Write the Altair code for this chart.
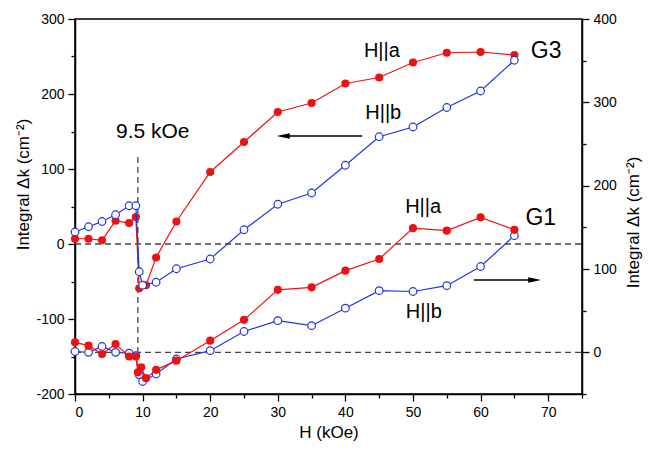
import altair as alt
import pandas as pd

# ---- data ----
h_g3a = [0, 2, 4, 6, 8, 9, 9.5, 10.5, 12, 15, 20, 25, 30, 35, 40, 45, 50, 55, 60, 65]
k_g3a = [7, 7, 5, 31, 28, 36, -59, -55, -18, 30, 96, 136, 176, 188, 214, 222, 242, 255, 256, 252]

h_g3b = [0, 2, 4, 6, 8, 9, 9.5, 10, 12, 15, 20, 25, 30, 35, 40, 45, 50, 55, 60, 65]
k_g3b = [16, 23, 30, 39, 51, 51, -37, -55, -51, -33, -20, 19, 53, 68, 105, 143, 156, 182, 204, 245]

h_g1a = [0, 2, 4, 6, 8, 9, 9.3, 9.8, 10.5, 12, 15, 20, 25, 30, 35, 40, 45, 50, 55, 60, 65]
k_g1a = [12, 8, -2, 10, -5, -5, -24, -18, -31, -21, -10, 14, 39, 75, 78, 98, 112, 149, 146, 162, 147]

h_g1b = [0, 2, 4, 6, 8, 9, 9.5, 10, 12, 15, 20, 25, 30, 35, 40, 45, 50, 55, 60, 65]
k_g1b = [1, 0, 7, 0, -1, -4, -27, -35, -26, -8, 2, 25, 38, 32, 53, 74, 73, 80, 103, 140]

labels_text = ["9.5 kOe", "H||a", "H||b", "G3", "H||a", "G1", "H||b"]
labels_x = [11.5, 45.4, 45.6, 69.7, 51.5, 68.9, 51.6]
labels_y = [149, 257, 175, 257, 49, 35, -91]
labels_size = [21, 20, 20, 23, 20, 23, 20]

RED = "#ee1111"
BLUE = "#2233dd"
FONT = "Liberation Sans"


def series(xs, ys):
    return pd.DataFrame({"x": xs, "y": ys, "i": list(range(len(xs)))})


X = alt.X(
    "x:Q",
    scale=alt.Scale(domain=[0, 75], nice=False, zero=False),
    axis=alt.Axis(
        title="H (kOe)",
        values=list(range(0, 76, 5)),
        labelExpr="datum.value % 10 === 0 ? toString(datum.value) : ''",
        tickSize={"condition": {"test": "datum.value % 10 === 0", "value": 7}, "value": 4},
        titlePadding=5,
    ),
)

YL = alt.Y(
    "y:Q",
    scale=alt.Scale(domain=[-200, 300], nice=False, zero=False),
    axis=alt.Axis(
        title="Integral Δk (cm⁻²)",
        orient="left",
        values=list(range(-200, 301, 50)),
        labelExpr="datum.value % 100 === 0 ? toString(datum.value) : ''",
        tickSize={"condition": {"test": "datum.value % 100 === 0", "value": 7}, "value": 4},
        titleX=-43,
        titleY=165,
        titleAngle=270,
        titleAlign="center",
        titleBaseline="bottom",
    ),
)

YR = alt.Y(
    "y:Q",
    scale=alt.Scale(domain=[-50, 400], nice=False, zero=False),
    axis=alt.Axis(
        title="Integral Δk (cm⁻²)",
        orient="right",
        values=list(range(-50, 401, 50)),
        labelExpr="datum.value % 100 === 0 ? toString(datum.value) : ''",
        tickSize={"condition": {"test": "datum.value % 100 === 0", "value": 7}, "value": 4},
        titleX=60,
        titleY=203,
        titleAngle=270,
        titleAlign="center",
        titleBaseline="bottom",
    ),
)


def line_pts(df, color, filled, Y):
    base = alt.Chart(df)
    ln = base.mark_line(color=color, strokeWidth=1.2).encode(x=X, y=Y, order="i:Q")
    if filled:
        pt = base.mark_point(filled=True, color=color, size=66, opacity=1).encode(x=X, y=Y)
    else:
        pt = base.mark_point(filled=False, fill="white", fillOpacity=1, stroke=color,
                             strokeWidth=1.2, size=58, opacity=1).encode(x=X, y=Y)
    return [ln, pt]


DASH = dict(color="#444444", strokeDash=[6, 4], strokeWidth=1.3)

# left-axis layer (G3 + annotations)
zero_left = alt.Chart(pd.DataFrame({"x": [0], "x2": [75], "y": [0]})).mark_rule(**DASH).encode(
    x=X, x2="x2:Q", y=YL)
vline = alt.Chart(pd.DataFrame({"x": [9.3], "y": [116], "y2": [-145]})).mark_rule(**DASH).encode(
    x=X, y=YL, y2="y2:Q")

arrow_lines = alt.Chart(pd.DataFrame({"x": [42.5, 59.0], "x2": [31.5, 67.3], "y": [144, -48]})).mark_rule(
    color="black", strokeWidth=1.6).encode(x=X, x2="x2:Q", y=YL)
arrow_left = alt.Chart(pd.DataFrame({"x": [30.8], "y": [144]})).mark_point(
    shape="M-1,0L1,-0.42L1,0.42Z", filled=True, color="black", size=170, opacity=1).encode(x=X, y=YL)
arrow_right = alt.Chart(pd.DataFrame({"x": [68.0], "y": [-48]})).mark_point(
    shape="M1,0L-1,-0.42L-1,0.42Z", filled=True, color="black", size=170, opacity=1).encode(x=X, y=YL)

texts = alt.Chart(pd.DataFrame({"x": labels_x, "y": labels_y, "t": labels_text, "s": labels_size})).mark_text(
    font=FONT, color="black", align="center", baseline="middle").encode(
    x=X, y=YL, text="t:N", size=alt.Size("s:Q", scale=None, legend=None))

left = alt.layer(
    zero_left, vline,
    *line_pts(series(h_g3a, k_g3a), RED, True, YL),
    *line_pts(series(h_g3b, k_g3b), BLUE, False, YL),
    arrow_lines, arrow_left, arrow_right, texts,
)

zero_right = alt.Chart(pd.DataFrame({"x": [0], "x2": [75], "y": [0]})).mark_rule(**DASH).encode(
    x=X, x2="x2:Q", y=YR)

right = alt.layer(
    zero_right,
    *line_pts(series(h_g1b, k_g1b), BLUE, False, YR),
    *line_pts(series(h_g1a, k_g1a), RED, True, YR),
)

chart = alt.layer(left, right).resolve_scale(y="independent").properties(
    width=507,
    height=375,
    autosize=alt.AutoSizeParams(type="none"),
    padding={"left": 67, "top": 11, "right": 62, "bottom": 48},
).configure_view(stroke="black", strokeWidth=1.5).configure_axis(
    grid=False,
    domainColor="black",
    domainWidth=1.5,
    tickColor="black",
    tickWidth=1.3,
    labelColor="black",
    titleColor="black",
    labelFont=FONT,
    titleFont=FONT,
    labelFontSize=14,
    titleFontSize=17,
    titleFontWeight="normal",
    labelPadding=4,
)

chart.save("out.html", embed_options={"renderer": "svg", "actions": False})
